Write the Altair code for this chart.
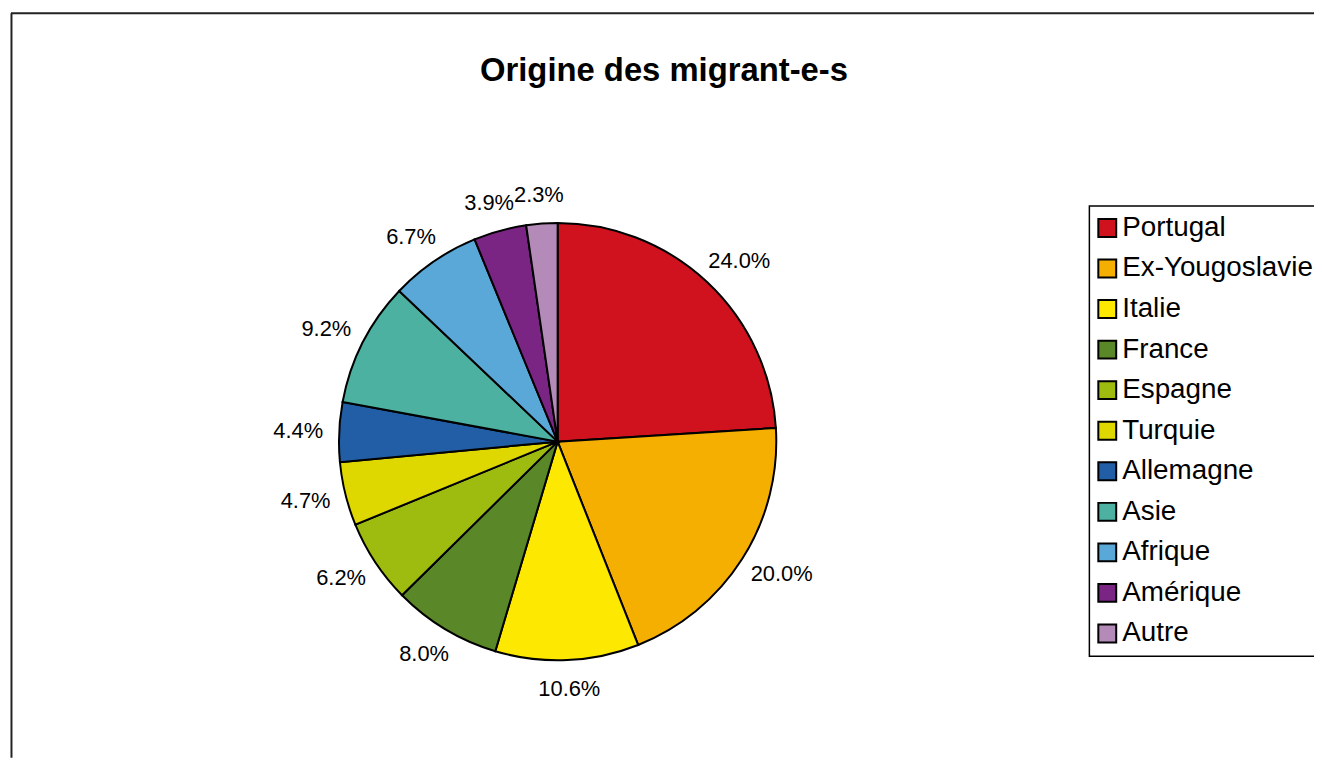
import altair as alt
import pandas as pd

# ---- data ----
categories = ["Portugal", "Ex-Yougoslavie", "Italie", "France", "Espagne", "Turquie",
              "Allemagne", "Asie", "Afrique", "Amérique", "Autre"]
shares = [24.0, 20.0, 10.6, 8.0, 6.2, 4.7, 4.4, 9.2, 6.7, 3.9, 2.3]
colors = ["#D0121F", "#F5AF00", "#FCE800", "#5A8728", "#9EBC10", "#DED800",
          "#215EA6", "#4CB1A0", "#5AA8D8", "#7A2484", "#B48AB8"]

df = pd.DataFrame({"origine": categories, "part": shares, "rang": list(range(len(categories)))})

FONT = "Liberation Sans"
W, H = 1314, 752
CX, CY = 553, 434        # pie centre (view coordinates)
R = 220                  # pie radius
LABEL_R = 238

base = alt.Chart(df)

color = alt.Color(
    "origine:N",
    scale=alt.Scale(domain=categories, range=colors),
    sort=categories,
    legend=alt.Legend(
        title=None, orient="none", legendX=1088, legendY=197,
        strokeColor="black", fillColor="white", padding=8, cornerRadius=0,
        labelFont=FONT, labelFontSize=28, labelColor="black", labelLimit=400,
        labelOffset=1, rowPadding=12.8, symbolOffset=-4,
        symbolType="square", symbolSize=324, symbolStrokeColor="black",
        symbolStrokeWidth=2, symbolOpacity=1,
    ),
)

arcs = base.mark_arc(outerRadius=R, stroke="black", strokeWidth=2).encode(
    theta=alt.Theta("part:Q", stack=True),
    color=color,
    order=alt.Order("rang:Q"),
    x=alt.value(CX),
    y=alt.value(CY),
)

labels = base.transform_window(
    cum="sum(part)", sort=[alt.SortField("rang")], frame=[None, 0]
).transform_calculate(
    mid="(datum.cum - datum.part / 2) / 100 * 2 * PI",
    label="format(datum.part, '.1f') + '%'",
).transform_calculate(
    hw="5.8 * length(datum.label)",
).transform_calculate(
    ox=f"sin(datum.mid) * ({LABEL_R} + datum.hw)",
    oy=f"-cos(datum.mid) * ({LABEL_R} + 11)",
).transform_calculate(
    rad="sqrt(datum.ox * datum.ox + datum.oy * datum.oy)",
    ang="atan2(datum.ox, -datum.oy)",
).mark_text(font=FONT, fontSize=22, align="center", baseline="middle", color="black").encode(
    theta=alt.Theta("ang:Q", scale=None, stack=False),
    radius=alt.Radius("rad:Q", scale=None),
    text=alt.Text("label:N"),
    x=alt.value(CX),
    y=alt.value(CY),
)

frame_df = pd.DataFrame({"k": [0]})
top_line = alt.Chart(frame_df).mark_rule(color="#222222", strokeWidth=2).encode(
    x=alt.value(3), x2=alt.value(W), y=alt.value(3)
)
left_line = alt.Chart(frame_df).mark_rule(color="#222222", strokeWidth=2).encode(
    x=alt.value(3.5), y=alt.value(3), y2=alt.value(H)
)

chart = alt.layer(top_line, left_line, arcs, labels).properties(
    width=W, height=H,
    autosize=alt.AutoSizeParams(type="none"),
    padding=0,
    title=alt.TitleParams(
        "Origine des migrant-e-s", font=FONT, fontSize=33, fontWeight="bold",
        color="black", anchor="middle", offset=0, dy=104, dx=3, baseline="alphabetic",
    ),
).configure_view(stroke=None).configure_legend(strokeWidth=1.5)

chart.save("out.html", embed_options={"renderer": "svg", "actions": False})
